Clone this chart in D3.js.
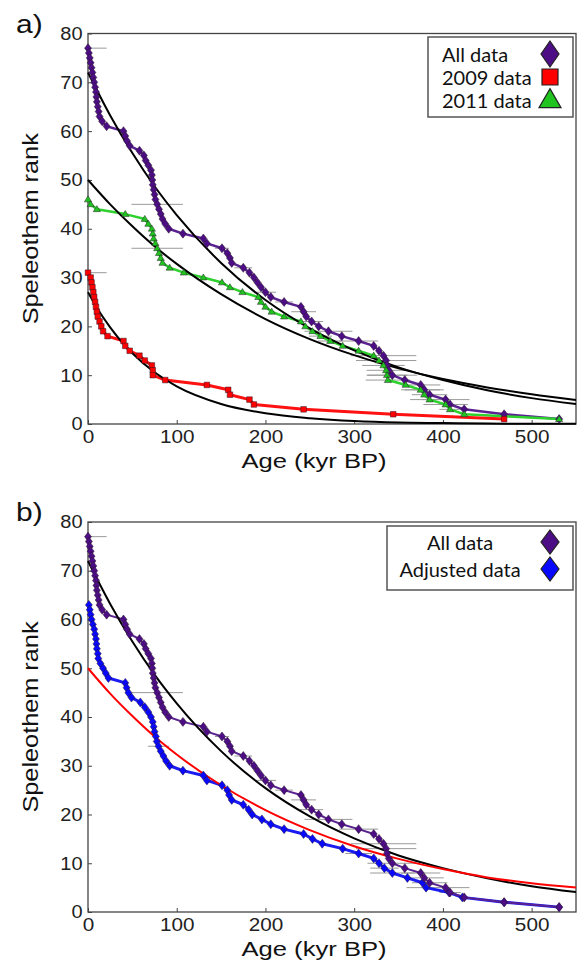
<!DOCTYPE html>
<html>
<head>
<meta charset="utf-8">
<script src="https://cdn.jsdelivr.net/npm/d3@7"></script>
<style>
  body { margin: 0; background: #fff; }
  svg { display: block; }
  .tick text { font-family: "Liberation Sans", Arial, sans-serif; font-size: 18.5px; fill: #222; }
  .tick line { stroke: #444; }
  .lbl { font-family: "Liberation Sans", Arial, sans-serif; fill: #111; }
  .leg { font-family: Lato, "Open Sans", sans-serif; font-size: 20px; fill: #111; }
</style>
</head>
<body>
<div id="chart"></div>
<script>
// rank vs age (kyr BP)
var allData = [[0,77],[1,76],[2,75],[3,74],[4,73],[5,72],[6,71],[7,70],[8,69],[9,68],[9.5,67],[10,66],[11,65],[12,64],[13,63],[16,62],[21,61],[40,60],[42,59],[44,58],[47,57],[58,56],[63,55],[65,54],[68,53],[71,52],[72,51],[72.5,50],[73,49],[74,48],[75,47],[76,46],[78,45],[80,44],[82,43],[84,42],[87,41],[91,40],[107,39],[130,38],[134,37],[151,36],[157,35],[160,34],[162,33],[175,32],[182,31],[187,30],[191,29],[195,28],[200,27],[206,26],[221,25],[240,24],[243,23],[246,22],[252,21],[260,20],[271,19],[286,18],[305,17],[322,16],[328,15],[333,14],[336,13],[337,12],[339,11],[343,10],[357,9],[375,8],[379,7],[385,6],[403,5],[408,4],[424,3],[469,2],[531,1]];
var data2009 = [[0,31],[3,30],[4,29],[5,28],[6,27],[7,26],[8,25],[9,24],[10,23],[11,22],[13,21],[15,20],[17,19],[22,18],[40,17],[42,16],[47,15],[58,14],[64,13],[72,12],[73,11],[73,10],[87,9],[134,8],[158,7],[160,6],[182,5],[187,4],[243,3],[344,2],[469,1]];
var data2011 = [[0,46],[3,45],[10,44],[42,43],[64,42],[68,41],[72,40],[73,39],[74,38],[76,37],[78,36],[80,35],[82,34],[84,33],[92,32],[108,31],[130,30],[151,29],[160,28],[174,27],[192,26],[195,25],[200,24],[207,23],[221,22],[240,21],[245,20],[253,19],[262,18],[273,17],[287,16],[305,15],[322,14],[328,13],[333,12],[336,11],[337,10],[338,9],[358,8],[375,7],[379,6],[385,5],[403,4],[408,3],[424,2],[531,1]];
var adjData = [[1,63],[2,62],[3,61],[4,60],[5.5,59],[7,58],[8,57],[9,56],[9.5,55],[10,54],[11,53],[11.6,52],[14,51],[17,50],[20,49],[23,48],[42,47],[43.5,46],[45.5,45],[49,44],[59,43],[64,42],[68,41],[71,40],[73,39],[74,38],[75,37],[76.5,36],[77.5,35],[79.5,34],[82,33],[85,32],[88,31],[92,30],[107,29],[130,28],[134,27],[151,26],[157,25],[159,24],[162,23],[175,22],[181,21],[185,20],[196,19],[206,18],[221,17],[243,16],[253,15],[264,14],[287,13],[305,12],[322,11],[328,10],[334,9],[343,8],[360,7],[377,6],[381,5],[407,4],[422,3],[469,2],[531,1]];

// fitted exponential curves, sampled off the figure
var fitAll = [[0,72],[25,63.2],[50,55.5],[75,48.7],[100,42.8],[150,33],[200,25.4],[250,19.6],[300,15.1],[350,11.6],[400,9],[450,6.9],[500,5.3],[550,4.1]];
var fit2011 = [[0,50],[25,45],[50,40.5],[75,36.4],[100,32.8],[150,26.6],[200,21.5],[250,17.4],[300,14.1],[350,11.4],[400,9.2],[450,7.5],[500,6.1],[550,4.9]];
var fit2009 = [[0,27],[10,23.8],[25,19.8],[40,16.4],[50,14.5],[75,10.6],[100,7.7],[150,4.1],[200,2.2],[250,1.2],[300,0.6],[350,0.3],[400,0.2],[450,0.1],[550,0.03]];
var fitAdj = [[0,50],[25,44.8],[50,40.2],[75,36],[100,32.3],[150,26],[200,20.9],[250,16.8],[300,13.5],[350,10.9],[400,8.8],[450,7.1],[500,5.9],[550,5]];

// age error bars: [age, rank, half width]
var errAll = [[0,77,21],[78,45,29],[151,36,8],[175,32,10],[200,27,12],[221,25,10],[243,23,14],[252,21,13],[271,19,27],[305,17,22],[333,14,37],[336,13,34],[343,10,28],[375,8,22],[379,7,22],[385,6,20],[403,5,27],[408,4,12]];
var err2011 = [[78,36,29],[262,18,13],[273,17,14],[333,12,24],[336,11,22],[337,10,23],[338,9,25],[375,7,22],[385,5,22],[403,4,25],[408,3,12]];
var err2009 = [[0,31,21]];
var errAdj = [[79.5,34,12],[305,12,15],[334,9,16],[343,8,25],[381,5,22]];

var xTicks = [0, 100, 200, 300, 400, 500];
var yTicks = [0, 10, 20, 30, 40, 50, 60, 70, 80];

var width = 577, height = 966;
var svg = d3.select("#chart").append("svg")
    .attr("width", width)
    .attr("height", height);

var xScale = d3.scaleLinear().domain([0, 550]).range([88, 576]);

var colors = {
  all: {line: "#5a2290", fill: "#4d0e85"},
  y2009: {line: "#ff1111", fill: "#ff0000"},
  y2011: {line: "#2ed12e", fill: "#1fc41f"},
  adj: {line: "#1a1af2", fill: "#0808ff"}
};

function diamond(w, h) { return "M0," + (-h) + "L" + w + ",0L0," + h + "L" + (-w) + ",0Z"; }
function square(s) { return "M" + (-s) + "," + (-s) + "h" + (2*s) + "v" + (2*s) + "h" + (-2*s) + "Z"; }
function triangle(w, h) { return "M0," + (-h*0.6) + "L" + w + "," + (h*0.4) + "L" + (-w) + "," + (h*0.4) + "Z"; }

function drawPanel(top, bottom, label) {
  var yScale = d3.scaleLinear().domain([0, 80]).range([bottom, top]);
  var g = svg.append("g");

  g.append("g")
      .attr("transform", "translate(88,0)")
      .call(d3.axisLeft(yScale).tickValues(yTicks).tickSizeInner(-4).tickSizeOuter(0).tickPadding(5))
      .call(function(a) { a.select(".domain").remove(); })
      .selectAll(".tick text").attr("transform", "scale(1.08,1)");

  g.append("g")
      .attr("transform", "translate(0," + bottom + ")")
      .call(d3.axisBottom(xScale).tickValues(xTicks).tickSizeInner(-4).tickSizeOuter(0).tickPadding(6))
      .call(function(a) { a.select(".domain").remove(); })
      .selectAll(".tick text").attr("transform", "scale(1.12,1)");

  g.append("rect")
      .attr("x", 88).attr("y", top)
      .attr("width", 488).attr("height", bottom - top)
      .attr("fill", "none").attr("stroke", "#444").attr("stroke-width", 1.3);

  g.append("text").attr("class", "lbl")
      .attr("transform", "translate(38," + ((top + bottom) / 2) + ") rotate(-90) scale(1.15,1)")
      .attr("text-anchor", "middle").style("font-size", "22px")
      .text("Speleothem rank");

  g.append("text").attr("class", "lbl")
      .attr("transform", "translate(314," + (bottom + 44) + ") scale(1.22,1)")
      .attr("text-anchor", "middle").style("font-size", "21px")
      .text("Age (kyr BP)");

  g.append("text").attr("class", "lbl")
      .attr("transform", "translate(16," + (top - 1) + ") scale(1.2,1)")
      .style("font-size", "25px")
      .text(label);

  return {g: g, y: yScale};
}

function errorBars(p, errs) {
  p.g.append("g").selectAll("line")
    .data(errs).enter().append("line")
      .attr("x1", function(d) { return xScale(Math.max(0, d[0] - d[2])); })
      .attr("x2", function(d) { return xScale(Math.min(550, d[0] + d[2])); })
      .attr("y1", function(d) { return p.y(d[1]); })
      .attr("y2", function(d) { return p.y(d[1]); })
      .attr("stroke", "#9a9a9a").attr("stroke-width", 1);
}

function fitLine(p, pts, color) {
  var line = d3.line()
      .x(function(d) { return xScale(d[0]); })
      .y(function(d) { return p.y(d[1]); })
      .curve(d3.curveMonotoneX);
  p.g.append("path").datum(pts)
      .attr("d", line)
      .attr("fill", "none").attr("stroke", color).attr("stroke-width", 2);
}

function series(p, pts, col, lw) {
  var line = d3.line()
      .x(function(d) { return xScale(d[0]); })
      .y(function(d) { return p.y(d[1]); });
  p.g.append("path").datum(pts)
      .attr("d", line)
      .attr("fill", "none").attr("stroke", col.line)
      .attr("stroke-width", lw).attr("stroke-linejoin", "round");
}

function markers(p, pts, col, shape) {
  p.g.append("g").selectAll("path")
    .data(pts).enter().append("path")
      .attr("transform", function(d) { return "translate(" + xScale(d[0]) + "," + p.y(d[1]) + ")"; })
      .attr("d", shape)
      .attr("fill", col.fill)
      .attr("stroke", "#2a1a2a").attr("stroke-width", 0.5);
}

// ---- panel a ----
var pa = drawPanel(33.5, 424, "a)");
errorBars(pa, errAll);
errorBars(pa, err2011);
errorBars(pa, err2009);
series(pa, allData, colors.all, 2.5);
series(pa, data2011, colors.y2011, 2.5);
series(pa, data2009, colors.y2009, 3);
fitLine(pa, fitAll, "#000");
fitLine(pa, fit2011, "#000");
fitLine(pa, fit2009, "#000");
markers(pa, allData, colors.all, diamond(3.5, 4.5));
markers(pa, data2011, colors.y2011, triangle(3.6, 6));
markers(pa, data2009, colors.y2009, square(2.8));

// legend a
var la = pa.g.append("g");
la.append("rect").attr("x", 428).attr("y", 37).attr("width", 145).attr("height", 80)
    .attr("fill", "#fff").attr("stroke", "#555").attr("stroke-width", 1.5);
var legA = [
  {name: "All data", col: colors.all, shape: diamond(9, 13), y: 62},
  {name: "2009 data", col: colors.y2009, shape: square(8), y: 85},
  {name: "2011 data", col: colors.y2011, shape: triangle(11, 19), y: 108}
];
legA.forEach(function(d) {
  la.append("text").attr("class", "leg").attr("x", 442).attr("y", d.y).text(d.name);
  la.append("path").attr("transform", "translate(550," + (d.y - 8) + ")")
      .attr("d", d.shape).attr("fill", d.col.fill)
      .attr("stroke", "#222").attr("stroke-width", 1.2);
});

// ---- panel b ----
var pb = drawPanel(522, 912, "b)");
errorBars(pb, errAll);
errorBars(pb, errAdj);
series(pb, adjData, colors.adj, 3);
series(pb, allData, colors.all, 2);
fitLine(pb, fitAll, "#000");
fitLine(pb, fitAdj, "#ff0000");
markers(pb, adjData, colors.adj, diamond(3.5, 4.5));
markers(pb, allData, colors.all, diamond(3.5, 4.5));

var lb = pb.g.append("g");
lb.append("rect").attr("x", 387).attr("y", 526).attr("width", 186).attr("height", 64)
    .attr("fill", "#fff").attr("stroke", "#555").attr("stroke-width", 1.5);
var legB = [
  {name: "All data", col: colors.all, y: 550},
  {name: "Adjusted data", col: colors.adj, y: 577}
];
legB.forEach(function(d) {
  lb.append("text").attr("class", "leg").attr("x", 460).attr("y", d.y)
      .attr("text-anchor", "middle").text(d.name);
  lb.append("path").attr("transform", "translate(550," + (d.y - 8) + ")")
      .attr("d", diamond(9, 12)).attr("fill", d.col.fill)
      .attr("stroke", "#222").attr("stroke-width", 1.2);
});
</script>
</body>
</html>
